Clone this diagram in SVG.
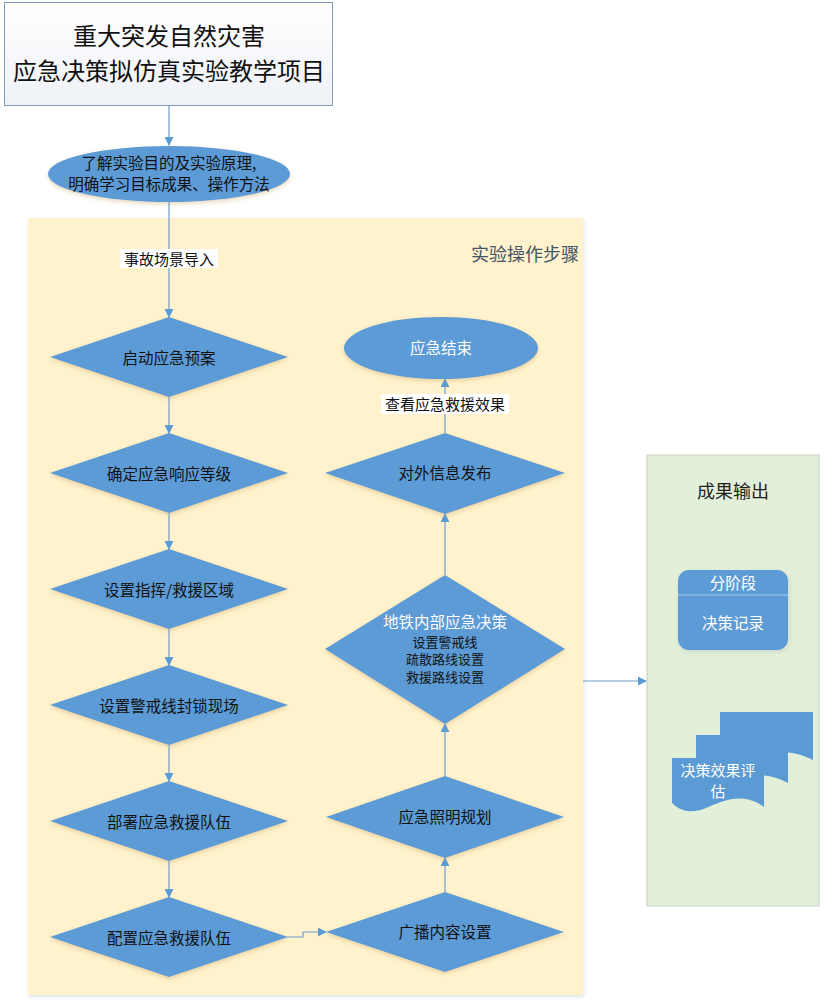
<svg xmlns="http://www.w3.org/2000/svg" width="831" height="1003" viewBox="0 0 831 1003">
<defs>
<marker id="ah" viewBox="0 0 10 10" refX="9" refY="5" markerWidth="9" markerHeight="9" markerUnits="userSpaceOnUse" orient="auto">
<path d="M0,0 L10,5 L0,10 z" fill="#5b9bd5"/>
</marker>
<filter id="sh" x="-10%" y="-10%" width="120%" height="130%">
<feGaussianBlur in="SourceAlpha" stdDeviation="2"/>
<feOffset dx="0" dy="1.5" result="b"/>
<feFlood flood-color="#c9a96a" flood-opacity="0.45"/>
<feComposite in2="b" operator="in"/>
<feMerge><feMergeNode/><feMergeNode in="SourceGraphic"/></feMerge>
</filter>
<filter id="psh" x="-5%" y="-5%" width="110%" height="110%">
<feGaussianBlur in="SourceAlpha" stdDeviation="2"/>
<feOffset dx="1" dy="2" result="b"/>
<feFlood flood-color="#b0b8c4" flood-opacity="0.4"/>
<feComposite in2="b" operator="in"/>
<feMerge><feMergeNode/><feMergeNode in="SourceGraphic"/></feMerge>
</filter>
<linearGradient id="tg" x1="0" y1="0" x2="0" y2="1">
<stop offset="0" stop-color="#ffffff"/>
<stop offset="1" stop-color="#eef1f6"/>
</linearGradient>
</defs>
<style>
text{font-family:"Microsoft YaHei","Noto Sans CJK SC","Noto Sans",sans-serif;text-anchor:middle;dominant-baseline:central;}
.shape{fill:#5b9bd5;}
.t{font-size:15.5px;fill:#111;}
.tw{font-size:15.5px;fill:#fff;}
.ts{font-size:13px;fill:#111;}
.conn{stroke:#6f9bcc;stroke-width:1.2;fill:none;marker-end:url(#ah);}
.lbl{font-size:15px;fill:#111;}
</style>
<rect width="831" height="1003" fill="#ffffff"/>

<g id="panel-steps">
<rect x="28" y="218" width="555" height="777" fill="#fff2cc" filter="url(#psh)"/>
<text x="525" y="253" style="font-size:18px;fill:#44546a;">实验操作步骤</text>
</g>

<g id="panel-output">
<rect x="647" y="455" width="172" height="451" fill="#e2efd9" stroke="#c8cfc4" stroke-width="1"/>
<text x="733" y="490" style="font-size:18px;fill:#222;">成果输出</text>
</g>

<g id="title">
<rect x="4.5" y="2.5" width="328" height="103" fill="url(#tg)" stroke="#7f9db9" stroke-width="1"/>
<text x="169" y="34" style="font-size:24px;fill:#111;">重大突发自然灾害</text>
<text x="169" y="69" style="font-size:24px;fill:#111;">应急决策拟仿真实验教学项目</text>
</g>

<g id="intro">
<ellipse cx="169" cy="174" rx="121" ry="28" class="shape" filter="url(#sh)"/>
<text x="169" y="162" style="font-size:15.5px;fill:#111;">了解实验目的及实验原理,</text>
<text x="169" y="183" style="font-size:15.5px;fill:#111;">明确学习目标成果、操作方法</text>
</g>

<g id="connectors">
<line x1="169" y1="106" x2="169" y2="145" class="conn"/>
<line x1="169" y1="202" x2="169" y2="317" class="conn"/>
<line x1="169" y1="397" x2="169" y2="433" class="conn"/>
<line x1="169" y1="513" x2="169" y2="549" class="conn"/>
<line x1="169" y1="629" x2="169" y2="665" class="conn"/>
<line x1="169" y1="745" x2="169" y2="781" class="conn"/>
<line x1="169" y1="861" x2="169" y2="897" class="conn"/>
<polyline points="287,937 303,937 303,932 326,932" class="conn"/>
<line x1="445" y1="892" x2="445" y2="858" class="conn"/>
<line x1="445" y1="776" x2="445" y2="724" class="conn"/>
<line x1="445" y1="575" x2="445" y2="514" class="conn"/>
<line x1="445" y1="433" x2="445" y2="379" class="conn"/>
<line x1="583" y1="681" x2="646" y2="681" class="conn"/>
<rect x="120" y="249" width="98" height="19" fill="#ffffff"/>
<text x="169" y="258" class="lbl">事故场景导入</text>
<rect x="381" y="394" width="128" height="20" fill="#ffffff"/>
<text x="445" y="403" class="lbl">查看应急救援效果</text>
</g>

<g id="d1">
<polygon points="169,317 288,357 169,397 50,357" class="shape" filter="url(#sh)"/>
<text x="169" y="357" class="t">启动应急预案</text>
</g>
<g id="d2">
<polygon points="169,433 288,473 169,513 50,473" class="shape" filter="url(#sh)"/>
<text x="169" y="473" class="t">确定应急响应等级</text>
</g>
<g id="d3">
<polygon points="169,549 288,589 169,629 50,589" class="shape" filter="url(#sh)"/>
<text x="169" y="589" class="t">设置指挥/救援区域</text>
</g>
<g id="d4">
<polygon points="169,665 288,705 169,745 50,705" class="shape" filter="url(#sh)"/>
<text x="169" y="705" class="t">设置警戒线封锁现场</text>
</g>
<g id="d5">
<polygon points="169,781 288,821 169,861 50,821" class="shape" filter="url(#sh)"/>
<text x="169" y="821" class="t">部署应急救援队伍</text>
</g>
<g id="d6">
<polygon points="169,897 288,937 169,977 50,937" class="shape" filter="url(#sh)"/>
<text x="169" y="937" class="t">配置应急救援队伍</text>
</g>

<g id="r1">
<polygon points="445,892 564,932 445,972 326,932" class="shape" filter="url(#sh)"/>
<text x="445" y="931" class="t">广播内容设置</text>
</g>
<g id="r2">
<polygon points="445,776 564,817 445,858 326,817" class="shape" filter="url(#sh)"/>
<text x="445" y="816" class="t">应急照明规划</text>
</g>
<g id="r3">
<polygon points="445,575 565,649 445,724 325,649" class="shape" filter="url(#sh)"/>
<text x="445" y="621" class="tw">地铁内部应急决策</text>
<text x="445" y="641" class="ts">设置警戒线</text>
<text x="445" y="658" class="ts">疏散路线设置</text>
<text x="445" y="676" class="ts">救援路线设置</text>
</g>
<g id="r4">
<polygon points="445,433 565,473 445,514 325,473" class="shape" filter="url(#sh)"/>
<text x="445" y="472" class="t">对外信息发布</text>
</g>
<g id="end">
<ellipse cx="441" cy="348" rx="97" ry="31" class="shape" filter="url(#sh)"/>
<text x="441" y="347" class="tw">应急结束</text>
</g>

<g id="record">
<rect x="678" y="570" width="110" height="80" rx="11" class="shape" filter="url(#psh)"/>
<line x1="678" y1="595" x2="788" y2="595" stroke="#a9c8e8" stroke-width="1"/>
<text x="733" y="582" class="tw">分阶段</text>
<text x="733" y="622" class="tw">决策记录</text>
</g>

<g id="evaluation">
<path d="M720,712 H813 V760 C790,748 770,752 752,756 C740,758 730,760 720,756 Z" class="shape"/>
<path d="M696,735 H788 V783 C766,771 746,775 728,779 C716,781 706,783 696,779 Z" class="shape"/>
<path d="M672,758 H764 V807 C744,792 724,800 706,808 C694,813 682,813 672,803 Z" class="shape"/>
<text x="718" y="769" style="font-size:15px;fill:#fff;">决策效果评</text>
<text x="718" y="790" style="font-size:15px;fill:#fff;">估</text>
</g>
</svg>
